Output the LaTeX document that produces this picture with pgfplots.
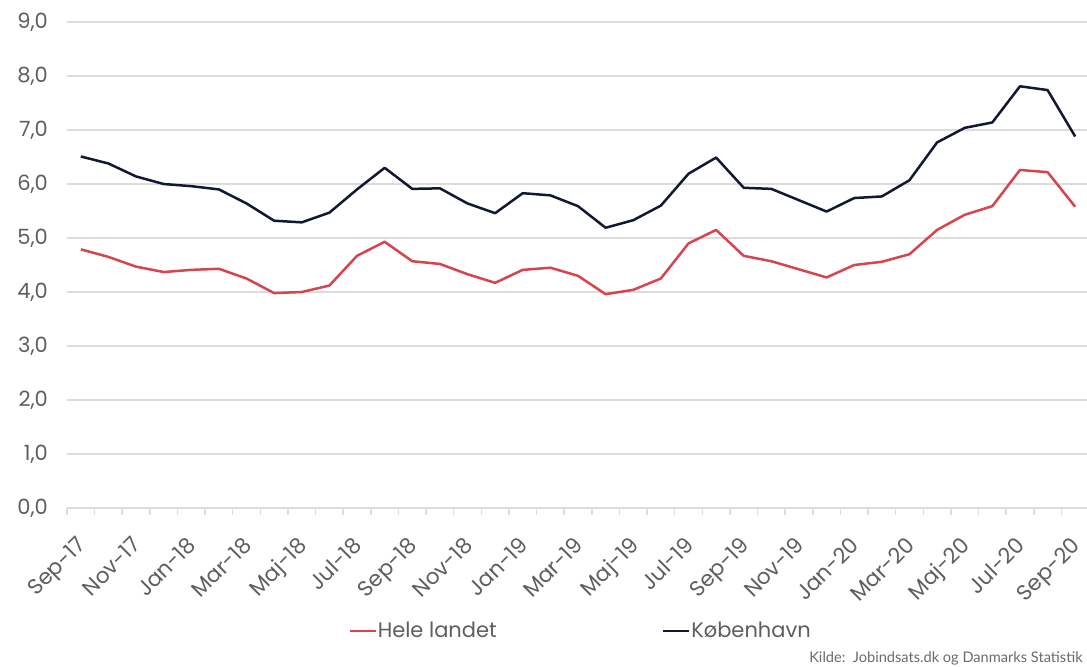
\documentclass[border=0pt]{standalone}
\usepackage{fontspec}
\setmainfont{Poppins}
\newfontfamily\notefont{Lato}
\usepackage{pgfplots}
\pgfplotsset{compat=1.18}
\usepackage{pgfplotstable}

\definecolor{landred}{HTML}{D6454D}
\definecolor{kbhnavy}{HTML}{111832}
\definecolor{gridgray}{HTML}{DCDCDC}
\definecolor{labelgray}{HTML}{5E5E5E}
\definecolor{notegray}{HTML}{6A6A6A}

% Monthly values, Sep-17 (0) to Sep-20 (36)
\pgfplotstableread{
idx hele kbh
0  4.79 6.51
1  4.65 6.38
2  4.47 6.14
3  4.37 6.00
4  4.41 5.96
5  4.43 5.90
6  4.25 5.64
7  3.98 5.32
8  4.00 5.29
9  4.12 5.47
10 4.67 5.90
11 4.93 6.30
12 4.57 5.91
13 4.52 5.92
14 4.33 5.64
15 4.17 5.46
16 4.41 5.83
17 4.45 5.79
18 4.30 5.59
19 3.96 5.19
20 4.04 5.33
21 4.25 5.60
22 4.90 6.19
23 5.15 6.49
24 4.67 5.93
25 4.57 5.91
26 4.42 5.70
27 4.27 5.49
28 4.50 5.74
29 4.56 5.77
30 4.70 6.07
31 5.15 6.77
32 5.43 7.04
33 5.59 7.14
34 6.26 7.81
35 6.22 7.74
36 5.58 6.88
}\ledighed

\begin{document}
\begin{tikzpicture}
\path[use as bounding box] (-33.5pt,-79pt) rectangle (510pt,254pt);
\begin{axis}[
  scale only axis,
  width=511pt, height=243pt,
  xmin=-0.5, xmax=36.5,
  ymin=0, ymax=9,
  ytick={0,1,...,9},
  xtick={0,2,...,36},
  xticklabels={Sep-17,Nov-17,Jan-18,Mar-18,Maj-18,Jul-18,Sep-18,Nov-18,Jan-19,Mar-19,Maj-19,Jul-19,Sep-19,Nov-19,Jan-20,Mar-20,Maj-20,Jul-20,Sep-20},
  extra x ticks={-0.5,0.5,...,35.5},
  extra x tick labels={},
  extra x tick style={major tick length=3.5pt, grid=none},
  major tick length=0pt,
  xtick pos=bottom, ytick pos=left,
  tick align=outside,
  tick style={color=gridgray, line width=0.75pt},
  axis line style={draw=none},
  ymajorgrids,
  grid style={color=gridgray, line width=0.75pt},
  /pgf/number format/assume math mode=true,
  y tick label style={/pgf/number format/fixed, /pgf/number format/fixed zerofill,
    /pgf/number format/precision=1, /pgf/number format/use comma},
  yticklabel style={font=\fontsize{10.5}{12}\selectfont, text=labelgray, anchor=east, xshift=-6pt},
  xticklabel style={font=\fontsize{10.8}{13}\selectfont, text=labelgray,
    xshift=-2.5pt, yshift=-12pt, rotate=45, anchor=north east, inner sep=1pt},
  legend style={at={(axis description cs:0.502,-0.253)}, anchor=center, draw=none,
    fill=none, font=\fontsize{10.5}{12}\selectfont, text=labelgray,
    /tikz/column 2/.style={column sep=82pt},
    /tikz/every node/.append style={inner xsep=0.5pt}},
  legend columns=2,
  legend image code/.code={\draw[#1] (0pt,0pt) -- (13pt,0pt);},
  every axis plot/.append style={line width=1.25pt, line join=round, mark=none},
]
\addplot[landred] table[x=idx, y=hele] {\ledighed};
\addlegendentry{Hele landet}
\addplot[kbhnavy] table[x=idx, y=kbh] {\ledighed};
\addlegendentry{København}
\end{axis}
\node[anchor=east, font=\notefont\fontsize{7.3}{8}\selectfont, text=notegray, inner sep=0pt] at (508pt,-75pt) {Kilde:\ \ Jobindsats.dk og Danmarks Statistik};
\end{tikzpicture}
\end{document}
